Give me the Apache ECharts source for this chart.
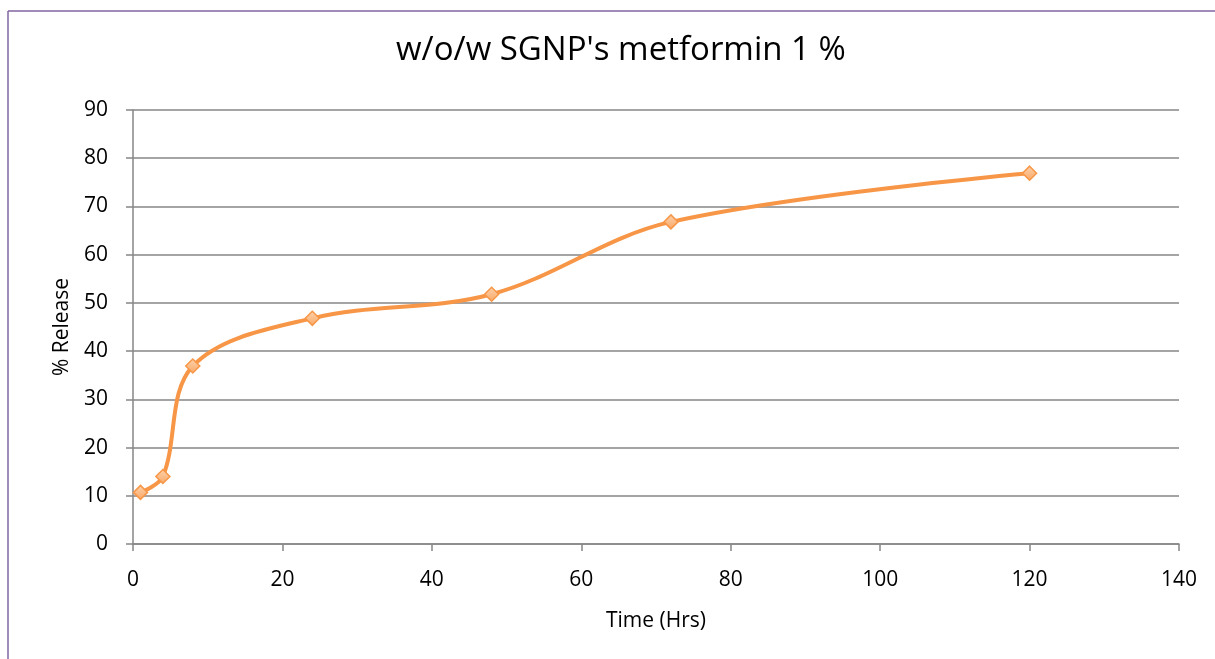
<!DOCTYPE html>
<html>
<head>
<meta charset="utf-8">
<script src="https://cdn.jsdelivr.net/npm/echarts@6/dist/echarts.min.js"></script>
<style>
html,body{margin:0;padding:0;background:#fff;}
#c{width:1215px;height:659px;}
</style>
</head>
<body>
<div id="c"></div>
<script>
var titleText = "w/o/w SGNP's metformin 1 %";
var timeHrs = [1, 4, 8, 24, 48, 72, 120];
var releasePct = [10.7, 14.0, 36.9, 46.8, 51.8, 66.8, 76.9];
var xTicks = [0, 20, 40, 60, 80, 100, 120, 140];
var yTicks = [0, 10, 20, 30, 40, 50, 60, 70, 80, 90];

var chart = echarts.init(document.getElementById('c'));
var fontFam = '"Open Sans", "Liberation Sans", sans-serif';
var data = timeHrs.map(function(t, i){ return [t, releasePct[i]]; });
chart.setOption({
  animation: false,
  backgroundColor: '#fff',
  title: {
    text: titleText,
    left: 391,
    top: 29,
    textStyle: {fontFamily: fontFam, fontSize: 33, fontWeight: 'normal', color: '#000'}
  },
  grid: {left: 133, right: 36, top: 110, bottom: 115},
  xAxis: {
    type: 'value',
    min: xTicks[0], max: xTicks[xTicks.length-1], interval: 20,
    name: 'Time (Hrs)', nameLocation: 'middle', nameGap: 67,
    nameTextStyle: {fontFamily: fontFam, fontSize: 21, color: '#000'},
    axisLine: {show: true, lineStyle: {color: '#868686', width: 1.5}},
    axisTick: {show: true, length: 7, lineStyle: {color: '#868686', width: 1.5}},
    axisLabel: {fontFamily: fontFam, fontSize: 21, color: '#000', margin: 26},
    splitLine: {show: false}
  },
  yAxis: {
    type: 'value',
    min: yTicks[0], max: yTicks[yTicks.length-1], interval: 10,
    name: '% Release', nameLocation: 'middle', nameGap: 60, nameRotate: 90,
    nameTextStyle: {fontFamily: fontFam, fontSize: 21, color: '#000'},
    axisLine: {show: true, lineStyle: {color: '#868686', width: 1.5}},
    axisTick: {show: true, length: 7, lineStyle: {color: '#868686', width: 1.5}},
    axisLabel: {fontFamily: fontFam, fontSize: 21, color: '#000', margin: 25},
    splitLine: {show: true, lineStyle: {color: '#868686', width: 1.5}}
  },
  series: [{
    type: 'line',
    data: data,
    smooth: 0.35,
    lineStyle: {color: '#F79646', width: 4},
    symbol: 'diamond',
    symbolSize: 14,
    itemStyle: {
      color: new echarts.graphic.LinearGradient(0,0,0,1,[{offset:0,color:'#FDD3AE'},{offset:1,color:'#F9A865'}]),
      borderColor: '#F79646', borderWidth: 1.5
    },
    z: 5
  }],
  graphic: [
    {type: 'line', shape: {x1: 8, y1: 11, x2: 8, y2: 659}, style: {stroke: '#8064A2', lineWidth: 1.5}},
    {type: 'line', shape: {x1: 8, y1: 11, x2: 1215, y2: 11}, style: {stroke: '#8064A2', lineWidth: 1.5}}
  ]
});
</script>
</body>
</html>
